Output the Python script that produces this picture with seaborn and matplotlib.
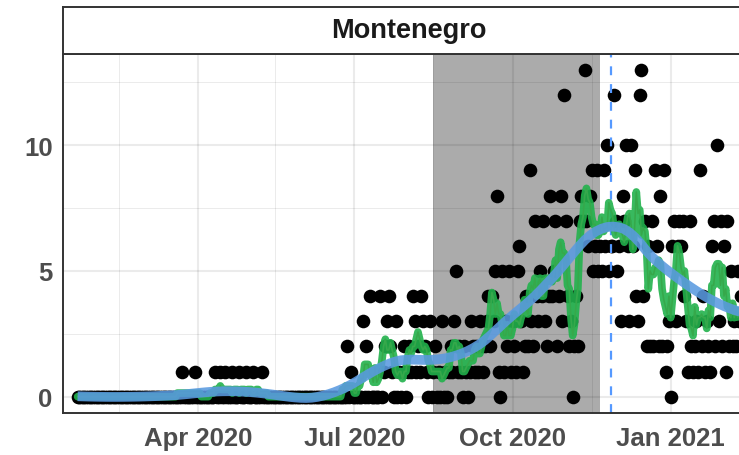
import numpy as np
import pandas as pd
import matplotlib
matplotlib.use("Agg")
import matplotlib.pyplot as plt
import matplotlib.dates as mdates
import seaborn as sns

# ---------------- data ----------------
country = "Montenegro"
start_date = "2020-01-22"
deaths = [
    0, 0, 0, 0, 0, 0, 0, 0, 0, 0, 0, 0, 0, 0, 0, 0, 0, 0, 0, 0,
    0, 0, 0, 0, 0, 0, 0, 0, 0, 0, 0, 0, 0, 0, 0, 0, 0, 0, 0, 0,
    0, 0, 0, 0, 0, 0, 0, 0, 0, 0, 0, 0, 0, 0, 0, 0, 0, 0, 0, 0,
    0, 1, 0, 0, 0, 0, 0, 0, 1, 0, 0, 0, 0, 0, 0, 0, 0, 0, 0, 0,
    1, 0, 0, 1, 0, 0, 1, 0, 0, 0, 1, 0, 0, 0, 1, 0, 0, 0, 1, 0,
    0, 0, 1, 0, 0, 0, 0, 1, 0, 0, 0, 0, 0, 0, 0, 0, 0, 0, 0, 0,
    0, 0, 0, 0, 0, 0, 0, 0, 0, 0, 0, 0, 0, 0, 0, 0, 0, 0, 0, 0,
    0, 0, 0, 0, 0, 0, 0, 0, 0, 0, 0, 0, 0, 0, 0, 0, 0, 2, 0, 1,
    0, 0, 0, 0, 0, 0, 3, 0, 2, 0, 4, 0, 0, 0, 0, 0, 4, 0, 1, 2,
    3, 4, 2, 1, 0, 3, 0, 1, 0, 1, 2, 0, 1, 2, 1, 4, 3, 1, 2, 1,
    4, 3, 2, 1, 0, 3, 0, 1, 2, 0, 1, 0, 3, 0, 1, 0, 1, 2, 1, 3,
    5, 1, 2, 1, 0, 2, 1, 0, 1, 3, 2, 1, 2, 1, 3, 2, 1, 2, 3, 4,
    2, 4, 3, 5, 8, 1, 0, 5, 1, 3, 2, 5, 1, 3, 2, 1, 5, 6, 3, 1,
    2, 4, 2, 9, 3, 2, 7, 4, 3, 5, 4, 7, 3, 2, 4, 8, 4, 5, 7, 2,
    4, 8, 3, 12, 7, 4, 2, 3, 0, 2, 4, 2, 7, 8, 7, 13, 7, 6, 8, 9,
    5, 6, 9, 5, 6, 5, 9, 6, 10, 5, 6, 6, 12, 7, 5, 6, 3, 8, 7, 10,
    6, 3, 10, 6, 9, 4, 3, 12, 13, 4, 7, 2, 6, 2, 7, 2, 9, 6, 2, 8,
    2, 9, 1, 2, 3, 0, 6, 7, 3, 6, 7, 6, 7, 4, 3, 1, 7, 2, 1, 2,
    3, 1, 9, 2, 4, 1, 3, 2, 1, 6, 7, 2, 10, 3, 7, 2, 6, 1, 7, 2,
    5, 2, 3, 2, 5, 3, 4,
]
shade_start = "2020-08-16"
shade_end = "2020-11-21"
peak_date = "2020-11-27"
x_breaks = ["2020-04-01", "2020-07-01", "2020-10-01", "2021-01-01"]
x_labels = ["Apr 2020", "Jul 2020", "Oct 2020", "Jan 2021"]
x_minor = ["2020-02-15", "2020-05-16", "2020-08-16", "2020-11-16"]
y_breaks = [0, 5, 10]
y_minor = [2.5, 7.5, 12.5]

# ---------------- derived series ----------------
dates = pd.date_range(start_date, periods=len(deaths), freq="D")
df = pd.DataFrame({"date": dates, "deaths": deaths})
df["avg7"] = df["deaths"].rolling(7, center=True, min_periods=1).mean()


def loess(x, y, span=0.3, n_out=120):
    x = np.asarray(x, float)
    y = np.asarray(y, float)
    n = len(x)
    k = int(np.ceil(span * n))
    xo = np.linspace(x.min(), x.max(), n_out)
    yo = np.empty_like(xo)
    for i, x0 in enumerate(xo):
        d = np.abs(x - x0)
        h = np.sort(d)[k - 1]
        w = np.clip(1 - (d / h) ** 3, 0, None) ** 3
        X = np.vstack([np.ones(n), x - x0, (x - x0) ** 2]).T
        W = np.sqrt(w)
        beta, *_ = np.linalg.lstsq(X * W[:, None], y * W, rcond=None)
        yo[i] = beta[0]
    return xo, yo


xnum = mdates.date2num(df["date"])
xs, ys = loess(xnum, df["deaths"].values, span=0.3)
smooth = pd.DataFrame({"date": mdates.num2date(xs), "fit": ys})
smooth["date"] = pd.to_datetime(smooth["date"]).dt.tz_localize(None)

# ---------------- figure ----------------
sns.set_theme(style="white")
plt.rcParams["font.family"] = ["Liberation Sans", "DejaVu Sans"]
plt.rcParams["font.weight"] = "bold"

W, H = 739, 456
fig = plt.figure(figsize=(W / 100, H / 100), dpi=100)
left_px, right_px, top_px, bot_px, strip_top = 63, 755, 54.5, 414, 8
ax = fig.add_axes([left_px / W, 1 - bot_px / H, (right_px - left_px) / W, (bot_px - top_px) / H])
sax = fig.add_axes([left_px / W, 1 - top_px / H, (right_px - left_px) / W, (top_px - strip_top) / H])

ax.set_facecolor("white")
ax.set_axisbelow(True)

ax.axvspan(pd.Timestamp(shade_start), pd.Timestamp(shade_end), color="#ababab", zorder=0.2, lw=0)

sns.scatterplot(data=df, x="date", y="deaths", color="black", s=96, linewidth=0,
                edgecolor=None, ax=ax, zorder=2, legend=False)
ax.axvline(pd.Timestamp(peak_date), color="#5599ff", lw=1.6, dashes=(4, 4), zorder=2.5)
sns.lineplot(data=df, x="date", y="avg7", color="#e8584a", lw=1.2, ax=ax, zorder=2.6, legend=False)
sns.lineplot(data=df, x="date", y="avg7", color="#22b24c", lw=5.5, alpha=0.9, ax=ax, zorder=3,
             legend=False, solid_capstyle="round")
sns.lineplot(data=smooth, x="date", y="fit", color="#5a9ae0", lw=7, alpha=0.88, ax=ax, zorder=4,
             legend=False, solid_capstyle="butt")

x0 = pd.Timestamp(start_date) - pd.Timedelta(days=8.5)
x1 = x0 + pd.Timedelta(days=(right_px - left_px) / 1.719)
ax.set_xlim(x0, x1)
ax.set_ylim(-0.65, 13.65)

ax.set_xticks([pd.Timestamp(d) for d in x_breaks])
ax.set_xticklabels(x_labels)
ax.set_xticks([pd.Timestamp(d) for d in x_minor], minor=True)
ax.set_yticks(y_breaks)
ax.set_yticklabels([str(v) for v in y_breaks])
ax.set_yticks(y_minor, minor=True)
ax.grid(which="major", color="black", alpha=0.08, lw=1.5)
ax.grid(which="minor", color="black", alpha=0.08, lw=0.75)
ax.tick_params(axis="both", which="major", length=4.5, width=1.1, color="#333333",
               labelcolor="#4d4d4d", labelsize=18.5)
ax.tick_params(axis="x", which="major", pad=5)
ax.tick_params(axis="y", which="major", pad=3)
ax.tick_params(which="minor", length=0)
for lab in ax.get_xticklabels() + ax.get_yticklabels():
    lab.set_fontweight("bold")
ax.set_xlabel("")
ax.set_ylabel("")
for sp in ax.spines.values():
    sp.set_color("#333333")
    sp.set_linewidth(1.4)

# facet strip
sax.set_facecolor("white")
sax.set_xticks([])
sax.set_yticks([])
for sp in sax.spines.values():
    sp.set_color("#333333")
    sp.set_linewidth(1.4)
sax.text((409 - left_px) / (right_px - left_px), 0.5, country, ha="center", va="center",
         fontsize=19.5, fontweight="bold", color="#1a1a1a", transform=sax.transAxes)

fig.savefig("out.png", dpi=100)
